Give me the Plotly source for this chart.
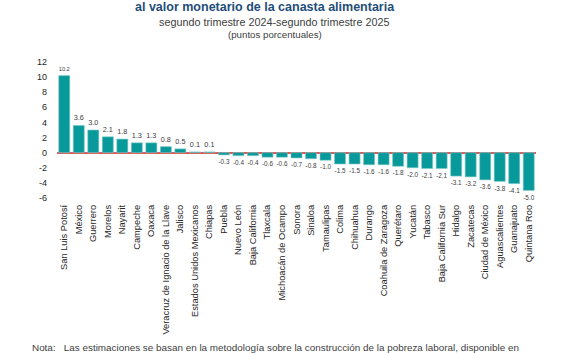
import plotly.graph_objects as go

states = ["San Luis Potosí", "México", "Guerrero", "Morelos", "Nayarit", "Campeche", "Oaxaca",
          "Veracruz de Ignacio de la Llave", "Jalisco", "Estados Unidos Mexicanos", "Chiapas",
          "Puebla", "Nuevo León", "Baja California", "Tlaxcala", "Michoacán de Ocampo", "Sonora",
          "Sinaloa", "Tamaulipas", "Colima", "Chihuahua", "Durango", "Coahuila de Zaragoza",
          "Querétaro", "Yucatán", "Tabasco", "Baja California Sur", "Hidalgo", "Zacatecas",
          "Ciudad de México", "Aguascalientes", "Guanajuato", "Quintana Roo"]
values = [10.2, 3.6, 3.0, 2.1, 1.8, 1.3, 1.3, 0.8, 0.5, 0.1, 0.1,
          -0.3, -0.4, -0.4, -0.6, -0.6, -0.7, -0.8, -1.0, -1.5, -1.5, -1.6, -1.6,
          -1.8, -2.0, -2.1, -2.1, -3.1, -3.2, -3.6, -3.8, -4.1, -5.0]
tick_vals = [12, 10, 8, 6, 4, 2, 0, -2, -4, -6]
tick_text = ["12", "10", "8", "6", "4", "2", "0", "-2", "-4", "-6"]

title = "al valor monetario de la canasta alimentaria"
subtitle = "segundo trimestre 2024-segundo trimestre 2025"
units = "(puntos porcentuales)"
note = "Nota:   Las estimaciones se basan en la metodología sobre la construcción de la pobreza laboral, disponible en"

FONT = "Liberation Sans, Arial, sans-serif"
W, H = 563, 353
L, R, T, B = 57, 27, 62, 155
PW, PH = W - L - R, H - T - B

def px(x):
    return (x - L) / PW

def py(y):
    return 1 - (y - T) / PH

fig = go.Figure(go.Bar(
    x=states, y=values,
    marker=dict(color="#089A9A", line=dict(color="#7FCACA", width=0.6)),
    text=[f"{v:.1f}" for v in values],
    textposition="outside",
    textfont=dict(size=7.3, color="#404040", family=FONT),
    cliponaxis=False,
))

fig.update_layout(
    width=W, height=H,
    margin=dict(l=L, r=R, t=T, b=B, pad=0),
    paper_bgcolor="white", plot_bgcolor="white",
    bargap=0.24,
    showlegend=False,
    font=dict(family=FONT, color="#404040"),
    xaxis=dict(tickangle=-90, tickfont=dict(size=9.3, color="#262626"),
               showgrid=False, showline=False, ticks="", ticklabelstandoff=4),
    yaxis=dict(range=[-6, 12], tickvals=tick_vals, ticktext=tick_text,
               tickfont=dict(size=9, color="#262626"),
               showgrid=False, showline=False, ticks="",
               zeroline=True, zerolinecolor="#E05A5A", zerolinewidth=1.5,
               ticklabelstandoff=9),
    annotations=[
        dict(text=f"<b>{title}</b>", x=px(265), y=py(7.5), xref="paper", yref="paper",
             xanchor="center", yanchor="middle", showarrow=False,
             font=dict(size=12.5, color="#1F4E79", family=FONT)),
        dict(text=subtitle, x=px(274), y=py(22.5), xref="paper", yref="paper",
             xanchor="center", yanchor="middle", showarrow=False,
             font=dict(size=10.8, color="#404040", family=FONT)),
        dict(text=units, x=px(275), y=py(34.5), xref="paper", yref="paper",
             xanchor="center", yanchor="middle", showarrow=False,
             font=dict(size=9.7, color="#404040", family=FONT)),
        dict(text=note, x=px(30), y=py(347), xref="paper", yref="paper",
             xanchor="left", yanchor="middle", showarrow=False,
             font=dict(size=9.9, color="#404040", family=FONT)),
    ],
)

fig.write_html("out.html")
